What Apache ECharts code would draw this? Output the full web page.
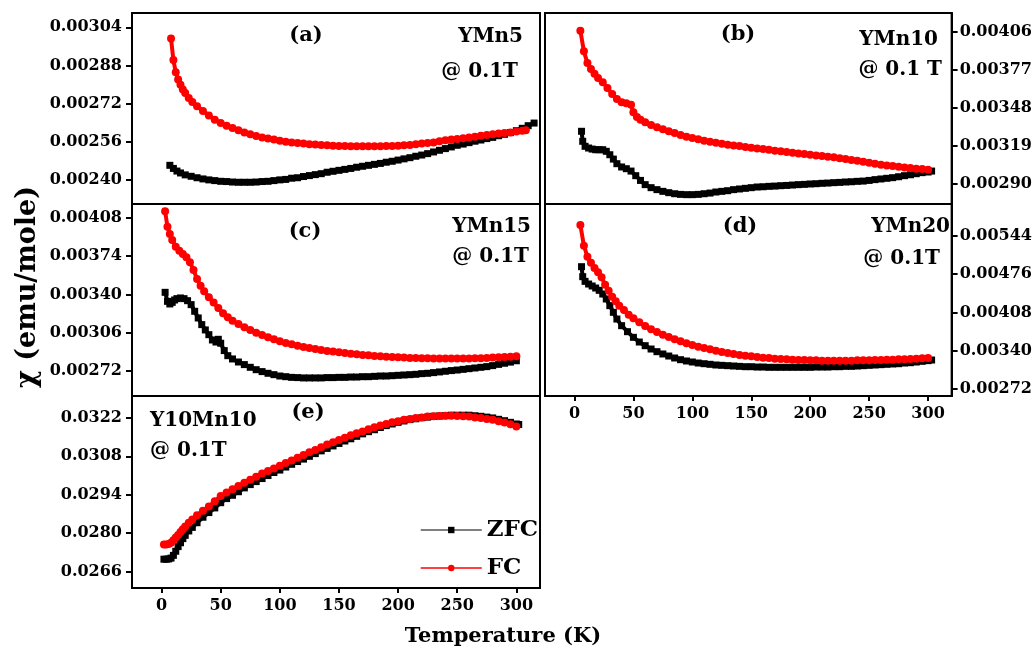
<!DOCTYPE html>
<html>
<head>
<meta charset="utf-8">
<script src="https://cdn.jsdelivr.net/npm/echarts@6.0.0/dist/echarts.min.js"></script>
<style>
html,body{margin:0;padding:0;background:#fff;}
#chart{width:1035px;height:652px;}
</style>
</head>
<body>
<div id="chart"></div>
<script>
// ---------- DATA ----------
const xTicks = [0, 50, 100, 150, 200, 250, 300];

// (a) YMn5
const yTicksA = [0.0024, 0.00256, 0.00272, 0.00288, 0.00304];
const tA_zfc = [7,10,13,16,20,25,30,35,40,45,50,55,60,65,70,75,80,85,90,95,100,105,110,115,120,125,130,135,140,145,150,155,160,165,170,175,180,185,190,195,200,205,210,215,220,225,230,235,240,245,250,255,260,265,270,275,280,285,290,295,300,305,310,315];
const chiA_zfc = [0.002462,0.002449,0.002438,0.002430,0.002422,0.002416,0.002410,0.002405,0.002401,0.002398,0.002395,0.002394,0.002392,0.002391,0.002391,0.002391,0.002392,0.002394,0.002395,0.002398,0.002401,0.002403,0.002408,0.002410,0.002415,0.002419,0.002423,0.002427,0.002433,0.002437,0.002441,0.002445,0.002449,0.002454,0.002458,0.002462,0.002466,0.002470,0.002475,0.002479,0.002484,0.002489,0.002494,0.002500,0.002505,0.002511,0.002518,0.002525,0.002532,0.002539,0.002546,0.002551,0.002557,0.002563,0.002568,0.002574,0.002579,0.002586,0.002592,0.002599,0.002607,0.002617,0.002628,0.002639];
const tA_fc = [8,10,12,14,16,18,20,23,26,30,35,40,45,50,55,60,65,70,75,80,85,90,95,100,105,110,115,120,125,130,135,140,145,150,155,160,165,170,175,180,185,190,195,200,205,210,215,220,225,230,235,240,245,250,255,260,265,270,275,280,285,290,295,300,305,308];
const chiA_fc = [0.002993,0.002903,0.002852,0.002821,0.002800,0.002780,0.002765,0.002744,0.002727,0.002709,0.002690,0.002671,0.002653,0.002639,0.002628,0.002618,0.002609,0.002600,0.002592,0.002585,0.002579,0.002574,0.002570,0.002565,0.002561,0.002558,0.002556,0.002553,0.002550,0.002549,0.002547,0.002546,0.002544,0.002543,0.002543,0.002542,0.002542,0.002542,0.002542,0.002542,0.002542,0.002543,0.002543,0.002544,0.002546,0.002547,0.002550,0.002553,0.002556,0.002558,0.002563,0.002567,0.002570,0.002572,0.002575,0.002579,0.002582,0.002586,0.002589,0.002592,0.002595,0.002597,0.002600,0.002604,0.002607,0.002609];

// (b) YMn10
const yTicksB = [0.0029, 0.00319, 0.00348, 0.00377, 0.00406];
const tB_zfc = [6,7,9,12,15,18,21,24,27,30,33,36,40,44,48,52,56,60,65,70,75,80,85,90,95,100,105,110,115,120,125,130,135,140,145,150,155,160,165,170,175,180,185,190,195,200,205,210,215,220,225,230,235,240,245,250,255,260,265,270,275,280,285,290,295,300,303];
const chiB_zfc = [0.003302,0.003226,0.003188,0.003175,0.003167,0.003162,0.003162,0.003162,0.003150,0.003124,0.003091,0.003056,0.003031,0.003018,0.003000,0.002965,0.002929,0.002897,0.002874,0.002859,0.002846,0.002836,0.002828,0.002823,0.002821,0.002821,0.002823,0.002828,0.002833,0.002841,0.002846,0.002851,0.002859,0.002864,0.002869,0.002874,0.002879,0.002881,0.002884,0.002886,0.002889,0.002891,0.002894,0.002897,0.002899,0.002902,0.002904,0.002907,0.002909,0.002912,0.002914,0.002917,0.002919,0.002922,0.002924,0.002929,0.002935,0.002940,0.002945,0.002950,0.002957,0.002965,0.002972,0.002980,0.002988,0.002993,0.003000];
const tB_fc = [5,8,11,14,17,20,24,28,32,36,40,44,48,50,53,56,60,65,70,75,80,85,90,95,100,105,110,115,120,125,130,135,140,145,150,155,160,165,170,175,180,185,190,195,200,205,210,215,220,225,230,235,240,245,250,255,260,265,270,275,280,285,290,295,300];
const chiB_fc = [0.004066,0.003909,0.003820,0.003775,0.003739,0.003707,0.003674,0.003631,0.003585,0.003547,0.003522,0.003514,0.003504,0.003446,0.003410,0.003390,0.003370,0.003350,0.003332,0.003317,0.003302,0.003289,0.003274,0.003261,0.003251,0.003241,0.003231,0.003223,0.003215,0.003208,0.003200,0.003195,0.003190,0.003183,0.003177,0.003172,0.003167,0.003162,0.003155,0.003150,0.003145,0.003140,0.003134,0.003129,0.003124,0.003119,0.003114,0.003109,0.003104,0.003097,0.003091,0.003084,0.003079,0.003071,0.003064,0.003056,0.003048,0.003043,0.003038,0.003033,0.003028,0.003023,0.003018,0.003016,0.003010];

// (c) YMn15
const yTicksC = [0.00272, 0.00306, 0.0034, 0.00374, 0.00408];
const tC_zfc = [3,5,7,9,11,13,16,19,22,25,28,31,34,37,40,43,46,48,50,53,56,60,65,70,75,80,85,90,95,100,105,110,115,120,125,130,135,140,145,150,155,160,165,170,175,180,185,190,195,200,205,210,215,220,225,230,235,240,245,250,255,260,265,270,275,280,285,290,295,300];
const chiC_zfc = [0.003418,0.003338,0.003315,0.003329,0.003350,0.003362,0.003368,0.003362,0.003344,0.003309,0.003250,0.003191,0.003132,0.003085,0.003043,0.002996,0.002978,0.003002,0.002967,0.002902,0.002857,0.002828,0.002801,0.002778,0.002754,0.002733,0.002716,0.002701,0.002689,0.002677,0.002671,0.002665,0.002663,0.002660,0.002660,0.002660,0.002660,0.002663,0.002663,0.002665,0.002665,0.002668,0.002668,0.002671,0.002671,0.002674,0.002677,0.002677,0.002680,0.002683,0.002686,0.002689,0.002692,0.002698,0.002701,0.002707,0.002713,0.002719,0.002725,0.002730,0.002736,0.002742,0.002748,0.002754,0.002760,0.002769,0.002780,0.002790,0.002800,0.002812];
const tC_fc = [3,5,7,9,12,15,18,21,24,27,30,33,36,40,44,48,52,56,60,65,70,75,80,85,90,95,100,105,110,115,120,125,130,135,140,145,150,155,160,165,170,175,180,185,190,195,200,205,210,215,220,225,230,235,240,245,250,255,260,265,270,275,280,285,290,295,300];
const chiC_fc = [0.004135,0.003999,0.003934,0.003881,0.003822,0.003787,0.003757,0.003728,0.003684,0.003616,0.003536,0.003477,0.003427,0.003374,0.003327,0.003279,0.003232,0.003197,0.003167,0.003138,0.003108,0.003085,0.003061,0.003040,0.003020,0.003002,0.002984,0.002969,0.002958,0.002946,0.002934,0.002925,0.002916,0.002907,0.002899,0.002893,0.002887,0.002881,0.002875,0.002869,0.002863,0.002860,0.002854,0.002851,0.002848,0.002846,0.002843,0.002840,0.002837,0.002837,0.002834,0.002834,0.002831,0.002831,0.002831,0.002831,0.002831,0.002831,0.002831,0.002834,0.002834,0.002837,0.002840,0.002843,0.002846,0.002848,0.002851];

// (d) YMn20
const yTicksD = [0.00272, 0.0034, 0.00408, 0.00476, 0.00544];
const tD_zfc = [6,7,9,12,15,18,21,24,27,30,33,36,40,45,50,55,60,65,70,75,80,85,90,95,100,105,110,115,120,125,130,135,140,145,150,155,160,165,170,175,180,185,190,195,200,205,210,215,220,225,230,235,240,245,250,255,260,265,270,275,280,285,290,295,300,303];
const chiD_zfc = [0.004890,0.004713,0.004630,0.004583,0.004548,0.004512,0.004471,0.004406,0.004318,0.004200,0.004082,0.003963,0.003845,0.003739,0.003639,0.003556,0.003491,0.003432,0.003385,0.003344,0.003308,0.003273,0.003243,0.003220,0.003202,0.003184,0.003172,0.003161,0.003149,0.003143,0.003137,0.003131,0.003125,0.003119,0.003119,0.003113,0.003113,0.003108,0.003108,0.003108,0.003108,0.003108,0.003108,0.003108,0.003108,0.003113,0.003113,0.003113,0.003119,0.003119,0.003125,0.003125,0.003131,0.003137,0.003143,0.003149,0.003155,0.003161,0.003167,0.003172,0.003184,0.003190,0.003202,0.003214,0.003226,0.003237];
const tD_fc = [5,8,11,14,17,20,23,26,29,32,35,38,42,46,50,55,60,65,70,75,80,85,90,95,100,105,110,115,120,125,130,135,140,145,150,155,160,165,170,175,180,185,190,195,200,205,210,215,220,225,230,235,240,245,250,255,260,265,270,275,280,285,290,295,300];
const chiD_fc = [0.005628,0.005262,0.005067,0.004961,0.004867,0.004790,0.004701,0.004571,0.004465,0.004359,0.004276,0.004200,0.004123,0.004040,0.003975,0.003904,0.003839,0.003780,0.003733,0.003686,0.003645,0.003603,0.003568,0.003533,0.003503,0.003474,0.003450,0.003426,0.003403,0.003379,0.003361,0.003344,0.003326,0.003314,0.003302,0.003290,0.003279,0.003273,0.003261,0.003255,0.003249,0.003243,0.003237,0.003237,0.003232,0.003232,0.003226,0.003226,0.003226,0.003226,0.003226,0.003226,0.003232,0.003232,0.003232,0.003237,0.003237,0.003243,0.003243,0.003249,0.003249,0.003255,0.003261,0.003267,0.003273];

// (e) Y10Mn10
const yTicksE = [0.0266, 0.028, 0.0294, 0.0308, 0.0322];
const tE_zfc = [2,4,6,8,10,12,14,16,18,20,23,26,30,35,40,45,50,55,60,65,70,75,80,85,90,95,100,105,110,115,120,125,130,135,140,145,150,155,160,165,170,175,180,185,190,195,200,205,210,215,220,225,230,235,240,245,250,255,260,265,270,275,280,285,290,295,300,302];
const chiE_zfc = [0.02705,0.02705,0.02706,0.02709,0.02719,0.02734,0.02751,0.02765,0.02780,0.02792,0.02808,0.02821,0.02838,0.02858,0.02875,0.02892,0.02911,0.02926,0.02938,0.02951,0.02965,0.02977,0.02988,0.02999,0.03010,0.03021,0.03030,0.03041,0.03051,0.03061,0.03070,0.03080,0.03090,0.03100,0.03109,0.03118,0.03127,0.03136,0.03144,0.03153,0.03162,0.03170,0.03177,0.03185,0.03192,0.03198,0.03204,0.03209,0.03214,0.03217,0.03221,0.03223,0.03226,0.03227,0.03228,0.03230,0.03230,0.03230,0.03230,0.03228,0.03226,0.03223,0.03220,0.03215,0.03210,0.03204,0.03198,0.03196];
const tE_fc = [2,4,6,8,10,12,14,16,18,20,23,26,30,35,40,45,50,55,60,65,70,75,80,85,90,95,100,105,110,115,120,125,130,135,140,145,150,155,160,165,170,175,180,185,190,195,200,205,210,215,220,225,230,235,240,245,250,255,260,265,270,275,280,285,290,295,300];
const chiE_fc = [0.02759,0.02759,0.02760,0.02765,0.02774,0.02784,0.02793,0.02804,0.02814,0.02824,0.02838,0.02850,0.02865,0.02882,0.02897,0.02916,0.02935,0.02948,0.02960,0.02972,0.02984,0.02995,0.03006,0.03017,0.03027,0.03036,0.03046,0.03056,0.03065,0.03075,0.03085,0.03095,0.03103,0.03113,0.03123,0.03131,0.03140,0.03148,0.03157,0.03164,0.03171,0.03179,0.03186,0.03192,0.03198,0.03204,0.03208,0.03213,0.03216,0.03220,0.03222,0.03225,0.03226,0.03227,0.03228,0.03228,0.03227,0.03226,0.03225,0.03222,0.03220,0.03216,0.03213,0.03208,0.03203,0.03197,0.03189];

// ---------- CHART ----------
const FONT = 'DejaVu Serif';
const panels = [
  {grid:{left:132, top:13, width:408, height:191}, yMin:0.0023, yMax:0.0031, yTicks:yTicksA, dec:5, side:'left',  xLab:false, z:[tA_zfc,chiA_zfc], f:[tA_fc,chiA_fc]},
  {grid:{left:545, top:13, width:407, height:191}, yMin:0.00275, yMax:0.0042, yTicks:yTicksB, dec:5, side:'right', xLab:false, z:[tB_zfc,chiB_zfc], f:[tB_fc,chiB_fc]},
  {grid:{left:132, top:204, width:408, height:192}, yMin:0.0025, yMax:0.0042, yTicks:yTicksC, dec:5, side:'left',  xLab:false, z:[tC_zfc,chiC_zfc], f:[tC_fc,chiC_fc]},
  {grid:{left:545, top:204, width:407, height:192}, yMin:0.0026, yMax:0.006, yTicks:yTicksD, dec:5, side:'right', xLab:true,  z:[tD_zfc,chiD_zfc], f:[tD_fc,chiD_fc]},
  {grid:{left:132, top:396, width:408, height:192}, yMin:0.026, yMax:0.033, yTicks:yTicksE, dec:4, side:'left',  xLab:true,  z:[tE_zfc,chiE_zfc], f:[tE_fc,chiE_fc]}
];
const pairs = (t, v) => t.map((x, i) => [x, v[i]]);
const labelStyle = {fontFamily: FONT, fontWeight: 'bold', fontSize: 16, color: '#000'};

const grids = [], xAxes = [], yAxes = [], series = [];
panels.forEach((p, i) => {
  grids.push(Object.assign({show: true, borderColor: '#000', borderWidth: 2, backgroundColor: 'transparent'}, p.grid));
  xAxes.push({
    type: 'value', gridIndex: i, min: -25, max: 320,
    axisLine: {show: true, onZero: false, lineStyle: {color: '#000', width: 2}},
    axisTick: {show: p.xLab, length: 5, customValues: xTicks, lineStyle: {color: '#000', width: 2}},
    axisLabel: Object.assign({show: p.xLab, margin: 10, customValues: xTicks}, labelStyle),
    splitLine: {show: false}
  });
  yAxes.push({
    type: 'value', gridIndex: i, min: p.yMin, max: p.yMax, position: p.side,
    axisLine: {show: true, onZero: false, lineStyle: {color: '#000', width: 2}},
    axisTick: {show: true, length: 6, customValues: p.yTicks, lineStyle: {color: '#000', width: 2}},
    axisLabel: Object.assign({show: true, margin: p.side === 'left' ? 10 : 8, customValues: p.yTicks,
      formatter: (v) => v.toFixed(p.dec)}, labelStyle),
    splitLine: {show: false}
  });
  series.push({
    name: 'ZFC', type: 'line', xAxisIndex: i, yAxisIndex: i,
    data: pairs(p.z[0], p.z[1]),
    symbol: 'rect', symbolSize: 7, showSymbol: true,
    itemStyle: {color: '#000'}, lineStyle: {color: '#000', width: 4},
    animation: false, z: 2
  });
  series.push({
    name: 'FC', type: 'line', xAxisIndex: i, yAxisIndex: i,
    data: pairs(p.f[0], p.f[1]),
    symbol: 'circle', symbolSize: 8, showSymbol: true,
    itemStyle: {color: '#ff0000'}, lineStyle: {color: '#ff0000', width: 4},
    animation: false, z: 3
  });
});

const txt = (text, x, y, size, align, extra) => Object.assign({
  type: 'text', x: x, y: y, z: 10,
  style: {text: text, fill: '#000', font: 'bold ' + size + 'px "' + FONT + '"', align: align, verticalAlign: 'middle'}
}, extra || {});

const graphics = [
  txt('(a)', 306, 36, 21, 'center'), txt('YMn5', 523, 37, 20, 'right'), txt('@ 0.1T', 518, 72, 20, 'right'),
  txt('(b)', 738, 35, 21, 'center'), txt('YMn10', 938, 40, 20, 'right'), txt('@ 0.1 T', 942, 70, 20, 'right'),
  txt('(c)', 305, 232, 21, 'center'), txt('YMn15', 531, 227, 20, 'right'), txt('@ 0.1T', 529, 257, 20, 'right'),
  txt('(d)', 740, 227, 21, 'center'), txt('YMn20', 950, 227, 20, 'right'), txt('@ 0.1T', 940, 259, 20, 'right'),
  txt('(e)', 308, 413, 21, 'center'), txt('Y10Mn10', 150, 421, 20, 'left'), txt('@ 0.1T', 150, 451, 20, 'left'),
  txt('χ (emu/mole)', 28, 287, 27, 'center', {rotation: Math.PI / 2}),
  txt('Temperature (K)', 503, 637, 21, 'center')
];

const chart = echarts.init(document.getElementById('chart'), null, {renderer: 'canvas'});
chart.setOption({
  backgroundColor: '#fff',
  animation: false,
  grid: grids, xAxis: xAxes, yAxis: yAxes, series: series,
  legend: {
    data: [
      {name: 'ZFC', lineStyle: {color: '#555', width: 1.5}},
      {name: 'FC', lineStyle: {color: '#ff0000', width: 1.5}}
    ],
    orient: 'vertical', left: 415, top: 513,
    itemWidth: 61, itemHeight: 8, itemGap: 14, selectedMode: false,
    lineStyle: {width: 1.5},
    textStyle: {fontFamily: FONT, fontWeight: 'bold', fontSize: 23, color: '#000', lineHeight: 24}
  },
  graphic: graphics
});
</script>
</body>
</html>
